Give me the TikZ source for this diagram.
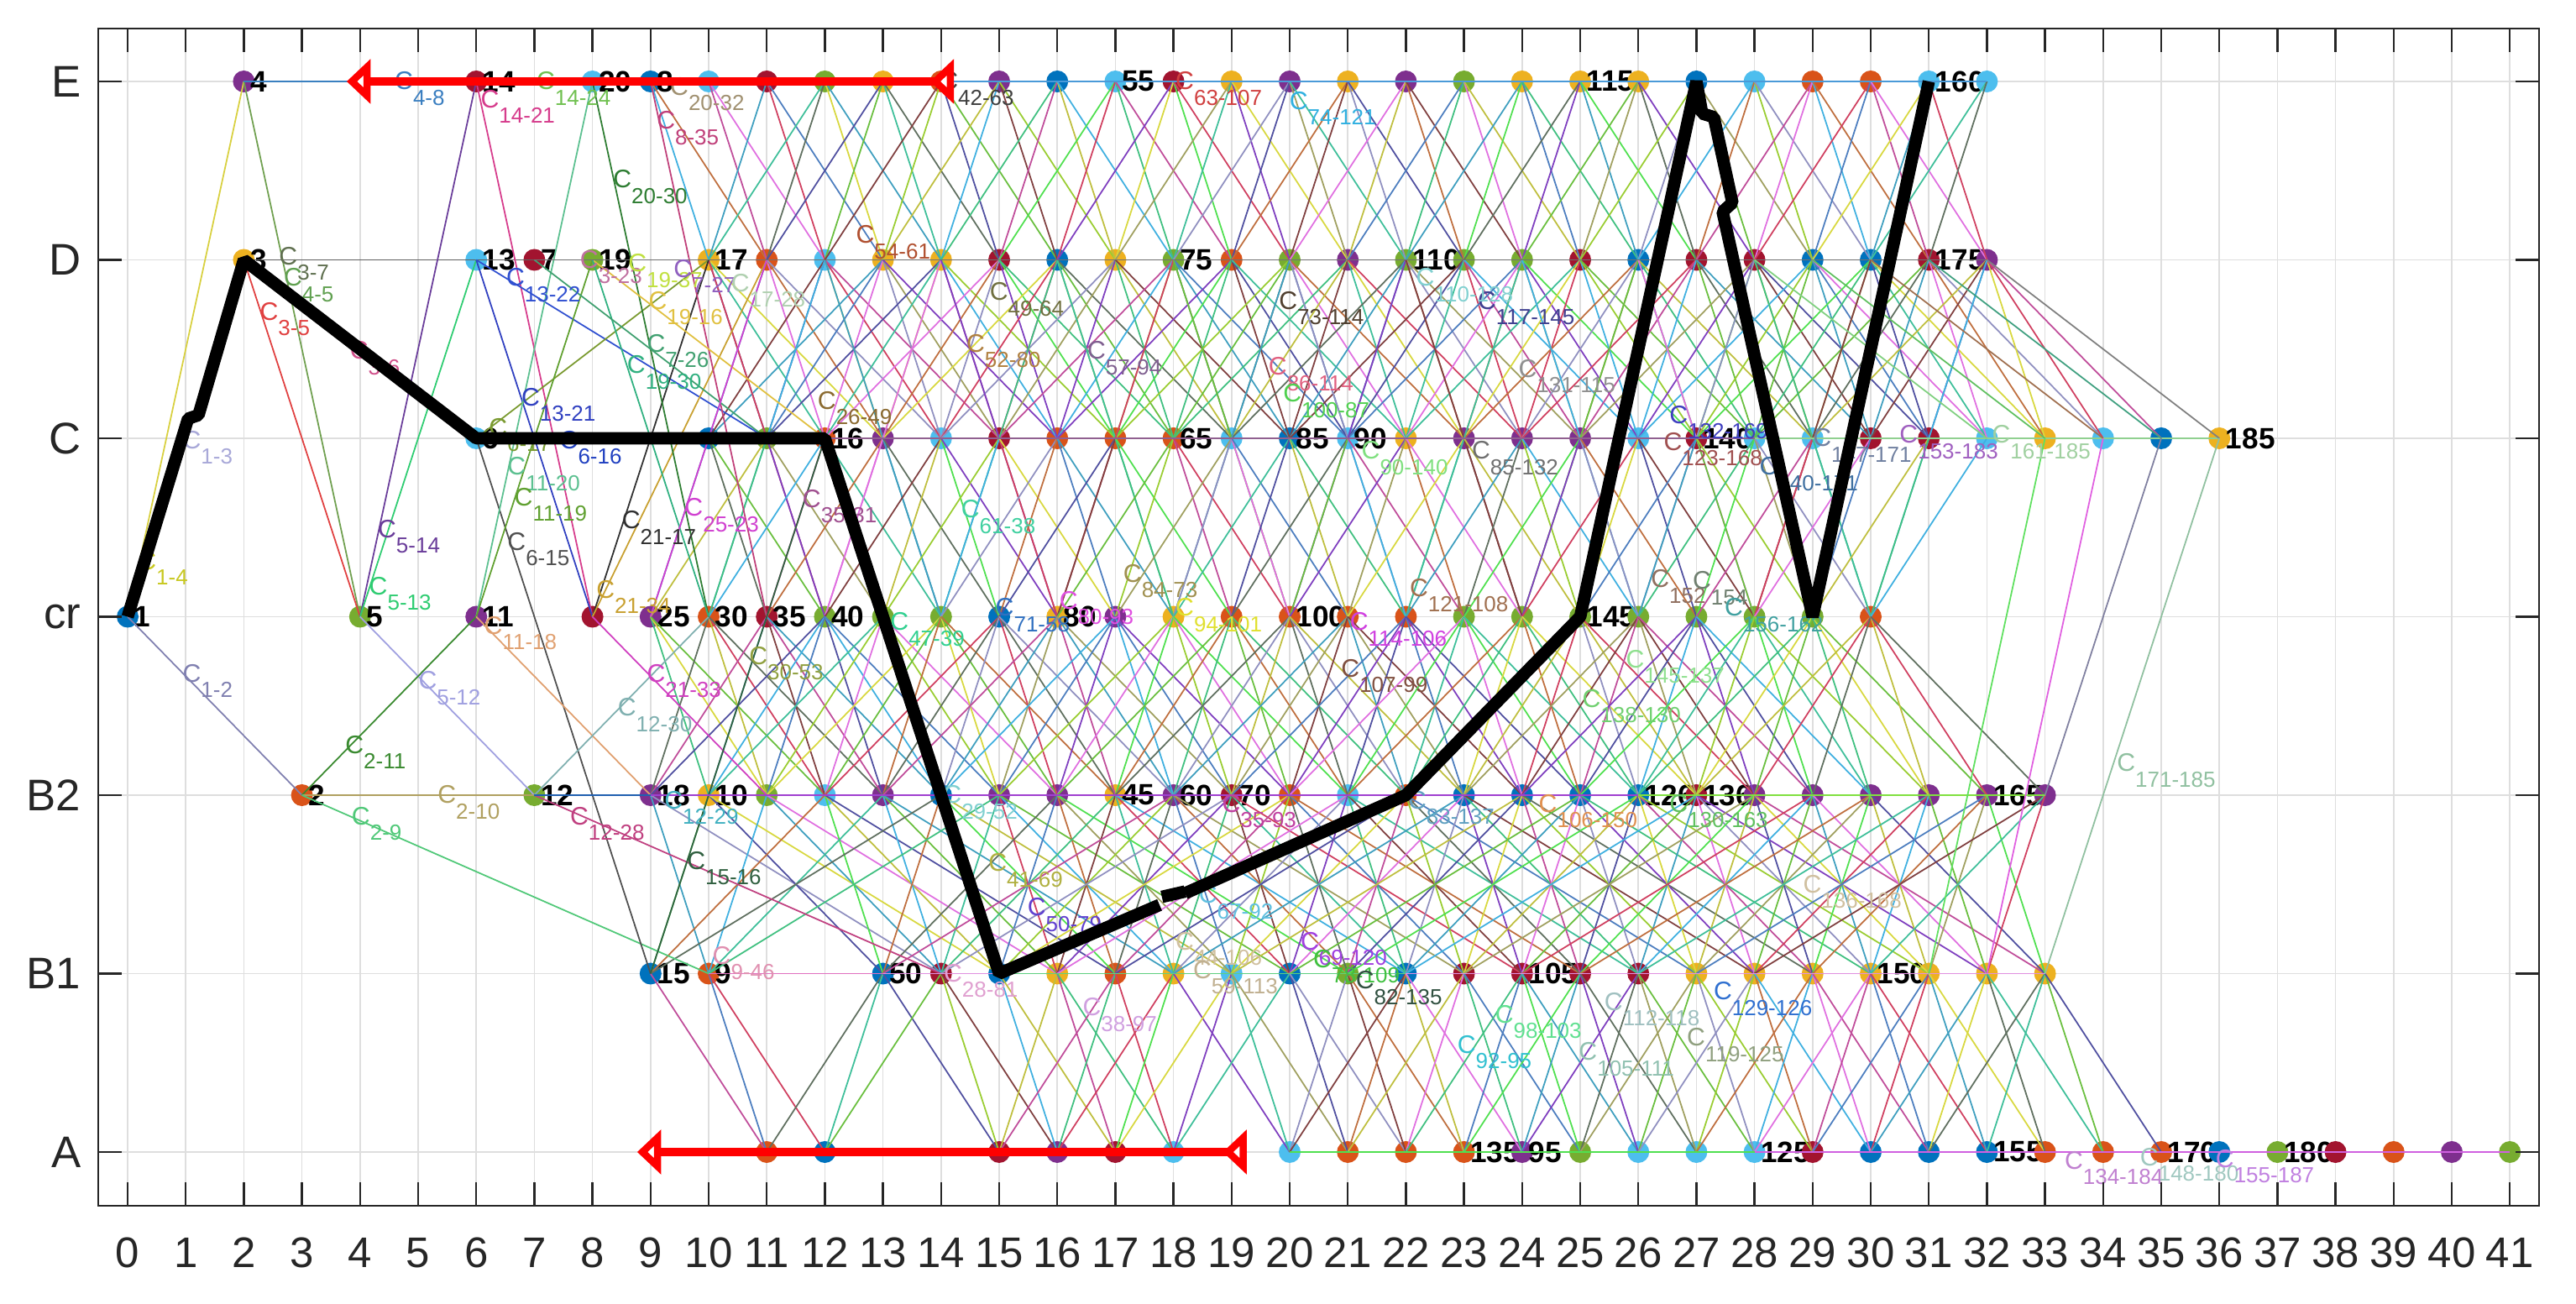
\documentclass[tikz,border=0pt]{standalone}
\usepackage{fontspec}
\setmainfont{Liberation Sans}
\definecolor{mb}{HTML}{0072BD}
\definecolor{mo}{HTML}{D95319}
\definecolor{my}{HTML}{EDB120}
\definecolor{mp}{HTML}{7E2F8E}
\definecolor{mg}{HTML}{77AC30}
\definecolor{ml}{HTML}{4DBEEE}
\definecolor{mr}{HTML}{A2142F}
\definecolor{col0}{HTML}{4D7EBF}
\definecolor{col1}{HTML}{6ABF3F}
\definecolor{col2}{HTML}{C04D9A}
\definecolor{col3}{HTML}{3FBF9A}
\definecolor{col4}{HTML}{BFBF3F}
\definecolor{col5}{HTML}{7F3FBF}
\definecolor{col6}{HTML}{BF6F3F}
\definecolor{col7}{HTML}{3F9FBF}
\definecolor{col8}{HTML}{9ACD32}
\definecolor{col9}{HTML}{D04060}
\definecolor{col10}{HTML}{5050A0}
\definecolor{col11}{HTML}{40C080}
\definecolor{col12}{HTML}{A0A060}
\definecolor{col13}{HTML}{E070E0}
\definecolor{col14}{HTML}{607060}
\definecolor{col15}{HTML}{40B0E0}
\definecolor{col16}{HTML}{D8D840}
\definecolor{col17}{HTML}{804040}
\definecolor{col18}{HTML}{50E050}
\definecolor{col19}{HTML}{9090C0}
\definecolor{ax}{HTML}{262626}
\definecolor{gridc}{HTML}{DEDEDE}
\def\nolab{-}
\newcommand\lk[3]{\ifcsname pgf@sh@ns@#1\endcsname\ifcsname pgf@sh@ns@#2\endcsname\draw[thinln,#3] (#1.center) -- (#2.center);\fi\fi}
\newcommand\csub[1]{C\raisebox{-5.2pt}{\fontsize{7.4}{7.4}\selectfont#1}}
\tikzset{
 ndot/.style={circle,inner sep=0pt,minimum size=0.26cm,draw=none},
 numlab/.style={anchor=west,xshift=0.07cm,inner sep=0pt,font=\fontsize{10}{10}\selectfont\bfseries,text=black},
 clab/.style={anchor=base west,xshift=-0.05cm,yshift=-0.1cm,inner sep=0pt,font=\fontsize{8.6}{8.6}\selectfont},
 thinln/.style={line width=0.5pt},
 gridln/.style={draw=gridc,line width=0.45pt},
 axframe/.style={draw=ax,line width=0.7pt},
 blk/.style={draw=black,line width=4.2pt,line join=bevel},
 redln/.style={draw=red,line width=2.8pt},
 redhd/.style={draw=red,fill=white,line width=2.4pt,line join=miter},
 xtick/.style={inner sep=0pt,font=\fontsize{14.5}{14.5}\selectfont,text=ax},
 ytick/.style={anchor=east,inner sep=0pt,font=\fontsize{15}{15}\selectfont,text=ax},
}
\begin{document}
\begin{tikzpicture}[x=0.692cm,y=2.125cm]
\useasboundingbox (-2.19653,-0.85176) rectangle (42.1387,6.4565);
% grid
\foreach \i in {0,...,41}{\draw[gridln] (\i,-0.301) -- (\i,6.296);}
\foreach \l in {0,...,6}{\draw[gridln] (-0.506,\l) -- (41.503,\l);}
% dots and numbers
\foreach \x/\cc/\lb in {2/mp/4,6/mr/14,8/ml/20,9/mb/8,10/ml/-,11/mr/-,12/mg/-,13/my/-,14/mo/-,15/mp/-,16/mb/-,17/ml/55,18/mr/-,19/my/-,20/mp/-,21/my/-,22/mp/-,23/mg/-,24/my/-,25/my/115,26/my/-,27/mb/-,28/ml/-,29/mo/-,30/mo/-,31/ml/160,32/ml/-}{
 \node[ndot,fill=\cc] (E\x) at (\x,6) {};
 \edef\tmp{\lb}\ifx\tmp\nolab\else\node[numlab] (lE\x) at (E\x.center) {\lb};\fi}
\foreach \x/\cc/\lb in {2/my/3,6/ml/13,7/mr/7,8/mg/19,10/my/17,11/mo/-,12/ml/-,13/my/-,14/my/-,15/mr/-,16/mb/-,17/my/-,18/mg/75,19/mo/-,20/mg/-,21/mp/-,22/mg/110,23/mg/-,24/mg/-,25/mr/-,26/mb/-,27/mr/-,28/mr/-,29/mb/-,30/mb/-,31/mr/175,32/mp/-}{
 \node[ndot,fill=\cc] (D\x) at (\x,5) {};
 \edef\tmp{\lb}\ifx\tmp\nolab\else\node[numlab] (lD\x) at (D\x.center) {\lb};\fi}
\foreach \x/\cc/\lb in {6/ml/6,10/mb/-,11/mg/-,12/mo/16,13/mp/-,14/ml/-,15/mr/-,16/mo/-,17/mo/-,18/mo/65,19/ml/-,20/mb/85,21/ml/90,22/my/-,23/mp/-,24/mp/-,25/mp/-,26/ml/-,27/mr/140,28/ml/-,29/ml/-,30/mr/-,31/mr/-,32/ml/-,33/my/-,34/ml/-,35/mb/-,36/my/185}{
 \node[ndot,fill=\cc] (C\x) at (\x,4) {};
 \edef\tmp{\lb}\ifx\tmp\nolab\else\node[numlab] (lC\x) at (C\x.center) {\lb};\fi}
\foreach \x/\cc/\lb in {0/mb/1,4/mg/5,6/mp/11,8/mr/-,9/mp/25,10/mo/30,11/mr/35,12/mg/40,13/mg/-,14/mg/-,15/mb/-,16/my/80,17/mp/-,18/my/-,19/mo/-,20/mo/100,21/mo/-,22/mo/-,23/mg/-,24/mg/-,25/mg/145,26/mg/-,27/mg/-,28/mg/-,29/mg/-,30/mo/-}{
 \node[ndot,fill=\cc] (R\x) at (\x,3) {};
 \edef\tmp{\lb}\ifx\tmp\nolab\else\node[numlab] (lR\x) at (R\x.center) {\lb};\fi}
\foreach \x/\cc/\lb in {3/mo/2,7/mg/12,9/mp/18,10/my/10,11/mg/-,12/ml/-,13/mp/-,14/mb/-,15/mp/-,16/mp/-,17/my/45,18/mp/60,19/mr/70,20/mo/-,21/ml/-,22/mo/-,23/mb/-,24/mb/-,25/mb/-,26/mb/126,27/mr/136,28/mp/-,29/mp/-,30/mp/-,31/mp/-,32/mp/165,33/mp/-}{
 \node[ndot,fill=\cc] (P\x) at (\x,2) {};
 \edef\tmp{\lb}\ifx\tmp\nolab\else\node[numlab] (lP\x) at (P\x.center) {\lb};\fi}
\foreach \x/\cc/\lb in {9/mb/15,10/mo/9,13/mb/50,14/mr/-,15/mb/-,16/my/-,17/mo/-,18/my/-,19/ml/-,20/mb/-,21/mg/-,22/mb/-,23/mr/-,24/mr/105,25/mr/-,26/mr/-,27/my/-,28/my/-,29/my/-,30/my/150,31/my/-,32/my/-,33/my/-}{
 \node[ndot,fill=\cc] (Q\x) at (\x,1) {};
 \edef\tmp{\lb}\ifx\tmp\nolab\else\node[numlab] (lQ\x) at (Q\x.center) {\lb};\fi}
\foreach \x/\cc/\lb in {11/mo/-,12/mb/-,15/mr/-,16/mp/-,17/mr/-,18/ml/-,20/ml/-,21/mo/-,22/mo/-,23/mo/135,24/mp/95,25/mg/-,26/ml/-,27/ml/-,28/ml/125,29/mr/-,30/mb/-,31/mb/-,32/mb/155,33/mo/-,34/mo/-,35/mo/170,36/mb/-,37/mg/180,38/mr/-,39/mo/-,40/mp/-,41/mg/-}{
 \node[ndot,fill=\cc] (A\x) at (\x,0) {};
 \edef\tmp{\lb}\ifx\tmp\nolab\else\node[numlab] (lA\x) at (A\x.center) {\lb};\fi}
% generated mesh of thin connectors
\foreach \x in {9,...,32}{\foreach \d in {-2,-1,1,2}{\pgfmathtruncatemacro\yy{\x+\d}\pgfmathtruncatemacro\kk{mod(\x*7+\d*11+101,20)}\ifnum\yy>8 \lk{E\x}{D\yy}{col\kk}\fi}}
\foreach \x in {10,...,32}{\foreach \d in {-3,-2,-1,1,2,3}{\pgfmathtruncatemacro\yy{\x+\d}\pgfmathtruncatemacro\kk{mod(\x*3+\d*13+107,20)}\ifnum\yy>8 \lk{D\x}{C\yy}{col\kk}\fi}}
\foreach \x in {10,12,...,32}{\foreach \d in {-2,2}{\pgfmathtruncatemacro\yy{\x+\d}\pgfmathtruncatemacro\kk{mod(\x*9+\d*3+53,20)}\ifnum\yy>8 \lk{D\x}{R\yy}{col\kk}\fi}}
\foreach \x in {10,...,36}{\foreach \d in {-2,-1,1,2}{\pgfmathtruncatemacro\yy{\x+\d}\pgfmathtruncatemacro\kk{mod(\x*11+\d*7+97,20)}\ifnum\yy>8 \lk{C\x}{R\yy}{col\kk}\fi}}
\foreach \x in {9,...,30}{\foreach \d in {-3,-2,-1,1,2,3}{\pgfmathtruncatemacro\yy{\x+\d}\pgfmathtruncatemacro\kk{mod(\x*13+\d*5+89,20)}\ifnum\yy>8 \lk{R\x}{P\yy}{col\kk}\fi}}
\foreach \x in {9,...,33}{\foreach \d in {-5,-3,-1,1,3,5}{\pgfmathtruncatemacro\yy{\x+\d}\pgfmathtruncatemacro\kk{mod(\x*17+\d*3+71,20)}\ifnum\yy>8 \lk{P\x}{Q\yy}{col\kk}\fi}}
\foreach \x in {9,...,33}{\foreach \d in {-2,-1,1,2}{\pgfmathtruncatemacro\yy{\x+\d}\pgfmathtruncatemacro\kk{mod(\x*7+\d*9+61,20)}\ifnum\yy>8 \lk{Q\x}{A\yy}{col\kk}\fi}}
% explicit connectors
\foreach \na/\nb/\cc in {R0/E2/D8D040,R0/D2/A8A8D8,R0/P3/8080B0,E2/R4/70A050,D2/R4/E04040,D2/C6/D0508A,D2/D7/606060,E2/E9/3A80C0,R4/E6/6A3D9A,R4/D6/2ECC71,R4/P7/A0A0E0,P3/R6/3A8A30,P3/P7/B0A060,P3/Q10/50C878,E6/R8/D63C8C,E6/E8/70C050,D6/R8/3040C0,D6/C11/3050D0,C6/D10/7A9A30,C6/C12/2040C0,C6/Q9/505050,R6/E8/5CC090,R6/D8/60A030,R6/P9/E0A070,R8/D10/303030,R8/D11/C8A030,R8/P11/D040C0,P7/Q14/C04080,P7/R10/80B0B0,P7/P9/2060B0,E8/R10/2E7D32,E9/R11/C0407A,D8/C12/E0C040,D8/R10/30B080,D7/C11/40A070,D7/D8/C070A0,D8/D10/C0E040,Q9/C12/306040,R9/D11/D040D0,E9/E32/4A9AD8,D7/D32/707070,C12/C36/906090,C28/C36/90D090,P9/P33/A040D0,P26/P33/80E040,Q10/Q13/E070C0,Q13/Q33/E090E0,Q15/Q22/60D080,A20/A28/50E050,A28/A41/D060E0,D28/C32/80D080,D29/C33/60C060,D30/C34/A07050,D31/C35/40A080,D32/C36/808080,C36/Q33/90C0A0,C35/P33/8080A0,C34/Q32/E060E0,C33/Q31/60E060}{
 \edef\tmp{\noexpand\definecolor{tmpl}{HTML}{\cc}}\tmp
 \lk{\na}{\nb}{tmpl}}
% connector labels
\foreach \x/\y/\lb/\cc in {4.66/6.0/4-8/3A7EC0,6.14/5.9/14-21/D63C8C,7.1/6.0/14-24/70C050,8.42/5.45/20-30/2E7D32,9.4/5.97/20-32/A09070,9.17/5.78/8-35/C0407A,2.67/5.02/3-7/607050,2.75/4.9/4-5/60A050,2.34/4.71/3-5/E04040,3.89/4.49/3-6/D0508A,6.58/4.9/13-22/3050D0,6.84/4.23/13-21/3040C0,6.28/4.06/6-17/7A9A30,7.5/3.99/6-16/2040C0,1.01/3.99/1-3/A8A8D8,6.6/3.84/11-20/5CC090,6.72/3.67/11-19/60A030,6.6/3.42/6-15/505050,4.37/3.49/5-14/6A3D9A,4.22/3.17/5-13/2ECC71,0.24/3.31/1-4/C8C820,8.57/3.54/21-17/303030,8.13/3.15/21-34/C8A030,6.2/2.95/11-18/E0A070,1.01/2.68/1-2/8080B0,5.07/2.64/5-12/A0A0E0,3.81/2.28/2-11/3A8A30,5.4/2.0/2-10/B0A060,3.92/1.88/2-9/50C878,7.68/1.88/12-28/C04080,8.5/2.49/12-30/80B0B0,9.0/2.68/21-33/D040C0,10.76/2.78/30-53/90A040,9.69/1.63/15-16/306040,9.3/1.97/12-29/40B0C0,10.13/1.1/9-46/E090B0,14.11/1.0/28-81/E0A0D0,14.88/1.62/41-69/B0B040,15.55/1.37/50-79/6040D0,16.5/0.81/38-97/D0A0E0,18.1/1.18/44-106/D0C0A0,18.4/1.02/59-113/C0B090,18.5/1.44/67-92/60C0E0,14.1/2.0/29-52/80D0D0,18.9/1.95/35-93/C040A0,13.19/2.97/47-39/30D090,12.6/5.14/54-61/B05030,9.03/4.77/19-16/E0C040,9.0/4.53/7-26/40A070,8.66/4.41/19-30/30B080,7.85/5.0/3-23/C070A0,8.68/4.98/19-37/C0E040,9.46/4.95/7-27/9060C0,10.45/4.87/17-28/B0D0B0,14.9/4.82/49-64/707040,14.5/4.53/52-80/B08040,16.58/4.49/57-94/806090,11.94/4.21/26-49/8A6A30,11.68/3.66/35-31/A05090,9.65/3.61/25-23/D040D0,14.41/3.6/61-38/40D0A0,17.2/3.24/84-73/A09050,15.0/3.05/71-58/3070C0,16.1/3.09/80-93/E050E0,18.1/3.05/94-101/E0E030,14.04/6.0/42-63/404040,18.1/6.0/63-107/D04040,20.06/5.89/74-121/30B0E0,19.88/4.77/73-114/504030,23.3/4.77/117-145/404090,19.7/4.4/86-114/E06080,19.95/4.25/100-87/50D050,24.0/4.39/131-115/909090,22.24/4.9/110-128/80D0D0,21.3/3.93/90-140/80E080,23.2/3.93/85-132/707070,26.5/3.98/123-168/A05050,26.6/4.13/132-169/4040C0,28.15/3.84/140-171/4070A0,22.13/3.16/121-108/A07050,21.1/2.97/114-106/D040E0,26.28/3.21/152/907060,27.0/3.2/154/708070,27.55/3.05/156-162/40A0A0,20.95/2.71/107-99/805040,25.85/2.76/145-137/90E090,25.1/2.54/138-130/70D070,22.1/1.97/83-137/60A0C0,24.35/1.95/106-150/E09050,26.6/1.95/130-163/60C060,28.9/1.5/136-168/D0C0A0,20.25/1.18/69-120/A040E0,20.47/1.08/78-109/40C040,21.2/0.96/82-135/305040,23.6/0.77/98-103/60E090,22.95/0.6/92-95/30C0D0,25.04/0.56/105-111/90C0B0,25.48/0.84/112-118/A0C0C0,26.9/0.64/119-125/90A080,27.36/0.9/129-126/3070D0,34.3/2.18/171-185/90C0A0,33.4/-0.05/134-184/C080D0,34.7/-0.03/148-180/A0C8C0,36.0/-0.04/155-187/C080E0,29.07/4.0/147-171/7080A0,30.56/4.02/153-183/A060C0,32.15/4.02/161-185/A0D0A0}{
 \edef\tmp{\noexpand\definecolor{tmpc}{HTML}{\cc}}\tmp
 \node[clab,text=tmpc] (cl\lb) at (\x,\y) {\csub{\lb}};}
% thick black path
\draw[blk] (R0.center) -- (1.04,4.11) -- (1.22,4.13) -- (D2.center) -- (C6.center) -- (C12.center) -- (Q15.center) -- (17.76,1.385);
\draw[blk] (17.8,1.43) -- (18.2,1.46);
\draw[blk] (18.2,1.45) -- (P22.center) -- (R25.center) -- (E27.center) -- (27.1,5.82) -- (27.3,5.8) -- (27.62,5.32) -- (27.45,5.27) -- (R29.center) -- (E31.center);
% red arrows
\coordinate (raL) at (4.12,6);
\coordinate (raR) at (14.16,6);
\coordinate (rbL) at (9.12,0);
\coordinate (rbR) at (19.2,0);
\draw[redln] (raL) -- (raR);
\draw[redln] (rbL) -- (rbR);
\draw[redhd] (3.86,6) -- (4.12,6.08) -- (4.12,5.92) -- cycle;
\draw[redhd] (14.16,6.08) -- (13.9,6) -- (14.16,5.92) -- cycle;
\draw[redhd] (8.86,0) -- (9.12,0.08) -- (9.12,-0.08) -- cycle;
\draw[redhd] (19.2,0.08) -- (18.94,0) -- (19.2,-0.08) -- cycle;
% axes frame and ticks
\draw[axframe] (-0.506,-0.301) rectangle (41.503,6.296);
\foreach \i in {0,...,41}{
 \draw[axframe] (\i,-0.301) -- ++(0pt,0.28cm);
 \draw[axframe] (\i,6.296) -- ++(0pt,-0.28cm);
 \node[xtick] (xt\i) at (\i,-0.565) {\i};}
\foreach \l/\n in {0/A,1/B1,2/B2,3/cr,4/C,5/D,6/E}{
 \draw[axframe] (-0.506,\l) -- ++(0.28cm,0pt);
 \draw[axframe] (41.503,\l) -- ++(-0.28cm,0pt);
 \node[ytick] (yt\n) at (-0.795,\l) {\n};}
\end{tikzpicture}
\end{document}
